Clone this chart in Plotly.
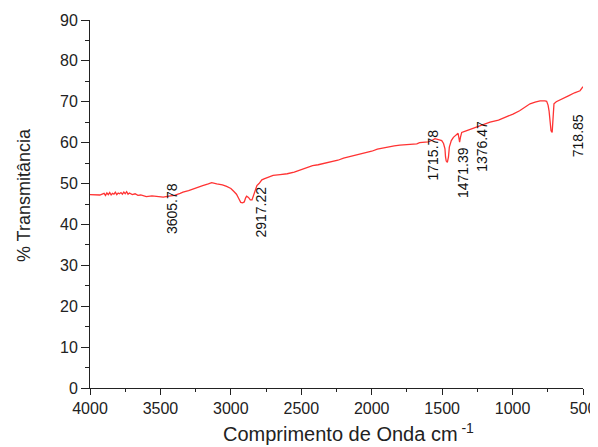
import plotly.graph_objects as go

wavenumber = [4000, 3960, 3930, 3900, 3890, 3880, 3870, 3860, 3850, 3840, 3830, 3820, 3810, 3800,
              3790, 3780, 3770, 3760, 3750, 3740, 3730, 3720, 3700, 3680, 3660, 3640, 3620, 3600,
              3560, 3520, 3480, 3440, 3400, 3360, 3340, 3300, 3260, 3240, 3200, 3160, 3136, 3100,
              3060, 3030, 3000, 2980, 2960, 2945, 2930, 2917, 2905, 2895, 2888, 2875, 2862, 2850,
              2838, 2828, 2815, 2800, 2780, 2760, 2730, 2700, 2650, 2600, 2550, 2510, 2470, 2420,
              2380, 2320, 2280, 2240, 2200, 2150, 2100, 2050, 2000, 1960, 1920, 1880, 1840, 1800,
              1760, 1720, 1700, 1680, 1660, 1636, 1600, 1570, 1551, 1520, 1503, 1490, 1480, 1476,
              1471, 1463, 1455, 1449, 1435, 1420, 1409, 1395, 1387, 1380, 1376, 1370, 1361, 1330,
              1300, 1255, 1210, 1160, 1100, 1050, 997, 950, 910, 876, 840, 805, 770, 758, 748, 741,
              733, 727, 719, 713, 706, 690, 663, 630, 600, 560, 521, 500]
transmittance = [47.3, 47.3, 47.2, 47.6, 47.1, 47.7, 47.3, 47.8, 47.2, 47.6, 47.4, 47.9, 47.3, 47.7,
                 47.5, 47.8, 47.4, 47.9, 47.5, 48.0, 47.4, 47.7, 47.3, 47.5, 47.1, 47.2, 46.9, 46.8,
                 47.0, 46.8, 46.7, 46.9, 47.1, 47.6, 47.9, 48.3, 48.8, 49.1, 49.5, 49.9, 50.2, 49.9,
                 49.7, 49.3, 48.8, 48.1, 47.4, 46.4, 45.4, 45.3, 45.5, 46.5, 46.9, 46.6, 46.0, 46.0,
                 47.2, 48.7, 49.5, 50.0, 50.9, 51.2, 51.6, 52.0, 52.2, 52.4, 52.8, 53.3, 53.7, 54.4,
                 54.6, 55.0, 55.3, 55.7, 56.2, 56.6, 57.0, 57.5, 57.9, 58.4, 58.7, 59.0, 59.2, 59.4,
                 59.5, 59.6, 59.8, 59.7, 60.0, 60.1, 60.2, 60.6, 61.0, 60.7, 60.5, 59.8, 58.5, 56.5,
                 55.5, 55.2, 56.5, 58.9, 60.5, 61.3, 61.7, 62.1, 62.3, 61.0, 60.1, 61.3, 62.5, 62.9,
                 63.3, 63.8, 64.4, 65.0, 65.5, 66.2, 67.0, 67.8, 68.7, 69.5, 69.9, 70.2, 70.2, 70.1, 69.2, 67.8,
                 65.0, 62.9, 62.5, 65.5, 69.5, 70.0, 70.4, 71.0, 71.5, 72.2, 72.7, 73.7]

peak_labels = ["3605.78", "2917.22", "1715.78", "1471.39", "1376.47", "718.85"]
label_x = [3421, 2786, 1565, 1355, 1217, 539]
label_y = [43.9, 42.9, 57.1, 52.7, 59.0, 61.7]

x_title = "Comprimento de Onda cm<sup> -1</sup>"
y_title = "% Transmitância"

font_family = "Liberation Sans, Arial, sans-serif"

fig = go.Figure()
fig.add_trace(go.Scatter(x=wavenumber, y=transmittance, mode="lines",
                         line=dict(color="#ff3333", width=1.3), showlegend=False))

for txt, xx, yy in zip(peak_labels, label_x, label_y):
    fig.add_annotation(x=xx, y=yy, xref="x", yref="y", text=txt, showarrow=False,
                       textangle=-90, font=dict(family=font_family, size=14, color="#111111"))

fig.add_annotation(x=0.525, y=-0.121, xref="paper", yref="paper", text=x_title, showarrow=False,
                   xanchor="center", yanchor="middle",
                   font=dict(family=font_family, size=20, color="#222222"))
fig.add_annotation(x=-0.134, y=0.524, xref="paper", yref="paper", text=y_title, showarrow=False,
                   xanchor="center", yanchor="middle", textangle=-90,
                   font=dict(family=font_family, size=18, color="#222222"))

fig.update_layout(
    width=590, height=439,
    margin=dict(l=82, r=15, t=12, b=59, autoexpand=False),
    plot_bgcolor="white", paper_bgcolor="white",
    font=dict(family=font_family, color="#222222"),
)
fig.update_xaxes(
    range=[4000, 500], dtick=500, tick0=500, automargin=False,
    showgrid=False, zeroline=False,
    showline=True, linecolor="#222222", linewidth=1,
    ticks="outside", ticklen=6, tickcolor="#222222",
    minor=dict(ticks="outside", ticklen=3, dtick=250, tickcolor="#222222"),
    tickfont=dict(size=16),
)
fig.update_yaxes(
    range=[0, 90], dtick=10, automargin=False,
    showgrid=False, zeroline=False,
    showline=True, linecolor="#222222", linewidth=1,
    ticks="outside", ticklen=8, tickcolor="#222222",
    minor=dict(ticks="outside", ticklen=4, dtick=5, tickcolor="#222222"),
    tickfont=dict(size=16),
)

fig.write_html("out.html")
